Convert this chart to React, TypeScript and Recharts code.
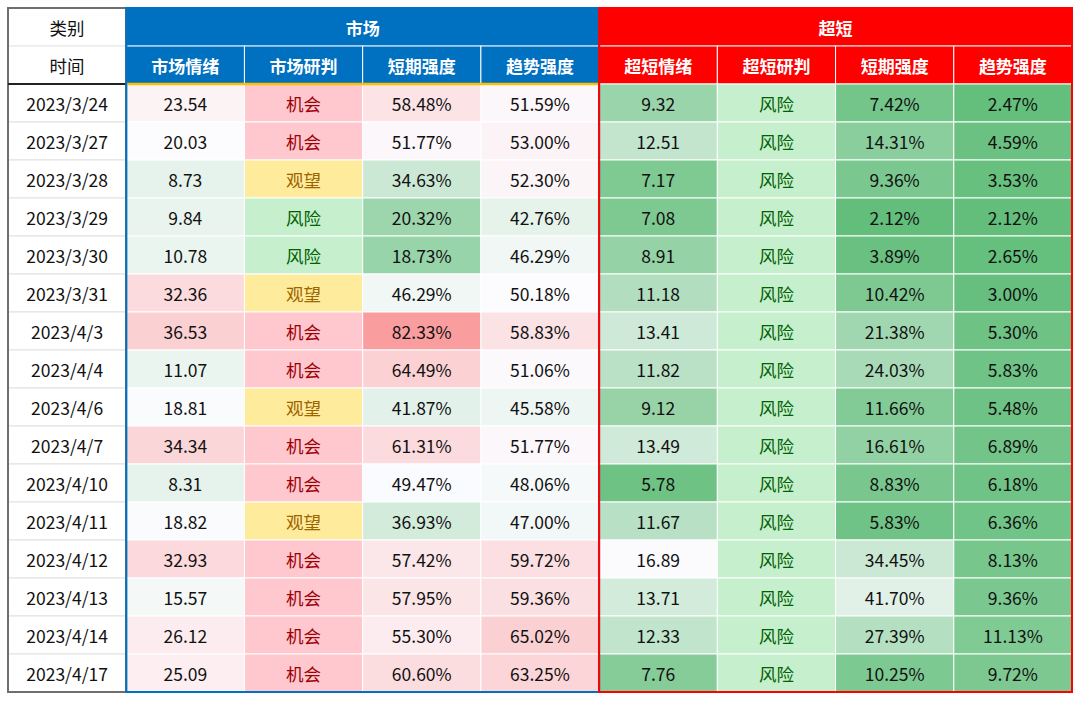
import { ScatterChart, Scatter, XAxis, YAxis, ReferenceArea, ReferenceLine } from "recharts";

const groupNames = ["市场", "超短"];
const columnNames = ["时间", "市场情绪", "市场研判", "短期强度", "趋势强度", "超短情绪", "超短研判", "短期强度", "趋势强度"];
const dates = [
  "2023/3/24", "2023/3/27", "2023/3/28", "2023/3/29", "2023/3/30", "2023/3/31", "2023/4/3", "2023/4/4",
  "2023/4/6", "2023/4/7", "2023/4/10", "2023/4/11", "2023/4/12", "2023/4/13", "2023/4/14", "2023/4/17",
];
const marketMood = [23.54, 20.03, 8.73, 9.84, 10.78, 32.36, 36.53, 11.07, 18.81, 34.34, 8.31, 18.82, 32.93, 15.57, 26.12, 25.09];
const marketJudge = ["机会", "机会", "观望", "风险", "风险", "观望", "机会", "机会", "观望", "机会", "机会", "观望", "机会", "机会", "机会", "机会"];
const marketShort = [58.48, 51.77, 34.63, 20.32, 18.73, 46.29, 82.33, 64.49, 41.87, 61.31, 49.47, 36.93, 57.42, 57.95, 55.3, 60.6];
const marketTrend = [51.59, 53.0, 52.3, 42.76, 46.29, 50.18, 58.83, 51.06, 45.58, 51.77, 48.06, 47.0, 59.72, 59.36, 65.02, 63.25];
const superMood = [9.32, 12.51, 7.17, 7.08, 8.91, 11.18, 13.41, 11.82, 9.12, 13.49, 5.78, 11.67, 16.89, 13.71, 12.33, 7.76];
const superJudge = ["风险", "风险", "风险", "风险", "风险", "风险", "风险", "风险", "风险", "风险", "风险", "风险", "风险", "风险", "风险", "风险"];
const superShort = [7.42, 14.31, 9.36, 2.12, 3.89, 10.42, 21.38, 24.03, 11.66, 16.61, 8.83, 5.83, 34.45, 41.7, 27.39, 10.25];
const superTrend = [2.47, 4.59, 3.53, 2.12, 2.65, 3.0, 5.3, 5.83, 5.48, 6.89, 6.18, 6.36, 8.13, 9.36, 11.13, 9.72];

// ---- layout / style ----
const W = 1080;
const H = 701;
const MARGIN = { top: 8, left: 8, right: 8, bottom: 9 };
const NCOL = columnNames.length;
const NROW = dates.length + 2;
const CELL_W = (W - MARGIN.left - MARGIN.right) / NCOL;
const CELL_H = (H - MARGIN.top - MARGIN.bottom) / NROW;
const FONT = '"Microsoft YaHei", "Noto Sans CJK SC", sans-serif';

const GREEN = [99, 190, 123];
const WHITE = [252, 252, 255];
const RED = [248, 105, 107];

const judgeStyle: Record<string, { bg: string; fg: string }> = {
  机会: { bg: "#FFC7CE", fg: "#9C0006" },
  观望: { bg: "#FFEB9C", fg: "#9C6500" },
  风险: { bg: "#C6EFCE", fg: "#006100" },
};

function mix(a: number[], b: number[], t: number) {
  const k = Math.max(0, Math.min(1, t));
  const c = a.map((v, i) => Math.round(v + (b[i] - v) * k));
  return `rgb(${c[0]},${c[1]},${c[2]})`;
}

// 3-colour scale like a spreadsheet conditional format
function heat(v: number, [lo, mid, hi]: number[]) {
  if (v <= mid) return mix(GREEN, WHITE, (v - lo) / (mid - lo));
  return mix(WHITE, RED, (v - mid) / (hi - mid));
}

const MOOD_MKT = [-60, 20, 75];
const MOOD_SUPER = [5, 17, 40];
const PCT = [2, 50, 100];

interface CellDatum {
  x: number;
  y: number;
  span: number;
  text: string;
  fill: string;
  stroke: string;
  color: string;
  bold?: boolean;
}

const cells: CellDatum[] = [];
const put = (col: number, row: number, span: number, text: string, fill: string, stroke: string, color: string, bold = false) =>
  cells.push({ x: col + span / 2, y: row + 0.5, span, text, fill, stroke, color, bold });

// header
put(0, 0, 1, "类别", "#FFFFFF", "#E6E6E6", "#111");
put(0, 1, 1, columnNames[0], "#FFFFFF", "#E6E6E6", "#111");
const groupColors = ["#0070C0", "#FF0000"];
const groupLines = ["#9DC3E6", "#FF9999"];
groupNames.forEach((g, i) => put(1 + i * 4, 0, 4, g, groupColors[i], groupLines[i], "#FFFFFF", true));
columnNames.slice(1).forEach((c, i) => {
  const gi = i < 4 ? 0 : 1;
  put(i + 1, 1, 1, c, groupColors[gi], "#FFFFFF", "#FFFFFF", true);
});

// body
dates.forEach((d, i) => {
  const r = i + 2;
  put(0, r, 1, d, "#FFFFFF", "#E0E0E0", "#111");
  put(1, r, 1, marketMood[i].toFixed(2), heat(marketMood[i], MOOD_MKT), "#FFFFFF", "#111");
  put(2, r, 1, marketJudge[i], judgeStyle[marketJudge[i]].bg, "#FFFFFF", judgeStyle[marketJudge[i]].fg);
  put(3, r, 1, marketShort[i].toFixed(2) + "%", heat(marketShort[i], PCT), "#FFFFFF", "#111");
  put(4, r, 1, marketTrend[i].toFixed(2) + "%", heat(marketTrend[i], PCT), "#FFFFFF", "#111");
  put(5, r, 1, superMood[i].toFixed(2), heat(superMood[i], MOOD_SUPER), "#FFFFFF", "#111");
  put(6, r, 1, superJudge[i], judgeStyle[superJudge[i]].bg, "#FFFFFF", judgeStyle[superJudge[i]].fg);
  put(7, r, 1, superShort[i].toFixed(2) + "%", heat(superShort[i], PCT), "#FFFFFF", "#111");
  put(8, r, 1, superTrend[i].toFixed(2) + "%", heat(superTrend[i], PCT), "#FFFFFF", "#111");
});

const renderCell = (props: any) => {
  const { cx, cy, payload } = props;
  const w = CELL_W * payload.span;
  return (
    <g>
      <rect x={cx - w / 2} y={cy - CELL_H / 2} width={w} height={CELL_H} fill={payload.fill} stroke={payload.stroke} strokeWidth={1} />
      <text
        x={cx}
        y={cy}
        textAnchor="middle"
        dominantBaseline="central"
        fontFamily={FONT}
        fontSize={payload.bold ? 17 : 17.5}
        fontWeight={payload.bold ? 700 : 400}
        fill={payload.color}
      >
        {payload.text}
      </text>
    </g>
  );
};

export default function App() {
  return (
    <div style={{ position: "absolute", left: 0, top: 0, background: "#fff" }}>
      <ScatterChart width={W} height={H} margin={MARGIN}>
        <XAxis type="number" dataKey="x" domain={[0, NCOL]} hide />
        <YAxis type="number" dataKey="y" domain={[0, NROW]} reversed hide />
        <Scatter data={cells} shape={renderCell} isAnimationActive={false} />
        <ReferenceArea x1={0} x2={1} y1={0} y2={NROW} fill="none" stroke="#6E6E6E" strokeWidth={2} zIndex={700} />
        <ReferenceLine segment={[{ x: 0, y: 2 }, { x: 1, y: 2 }]} stroke="#222" strokeWidth={2} zIndex={700} />
        <ReferenceLine segment={[{ x: 1, y: 2 }, { x: 5, y: 2 }]} stroke="#FFC000" strokeWidth={2.5} zIndex={700} />
        <ReferenceArea x1={1} x2={5} y1={0} y2={NROW} fill="none" stroke="#0070C0" strokeWidth={2} zIndex={710} />
        <ReferenceArea x1={5} x2={9} y1={0} y2={NROW} fill="none" stroke="#FF0000" strokeWidth={2} zIndex={720} />
      </ScatterChart>
    </div>
  );
}
